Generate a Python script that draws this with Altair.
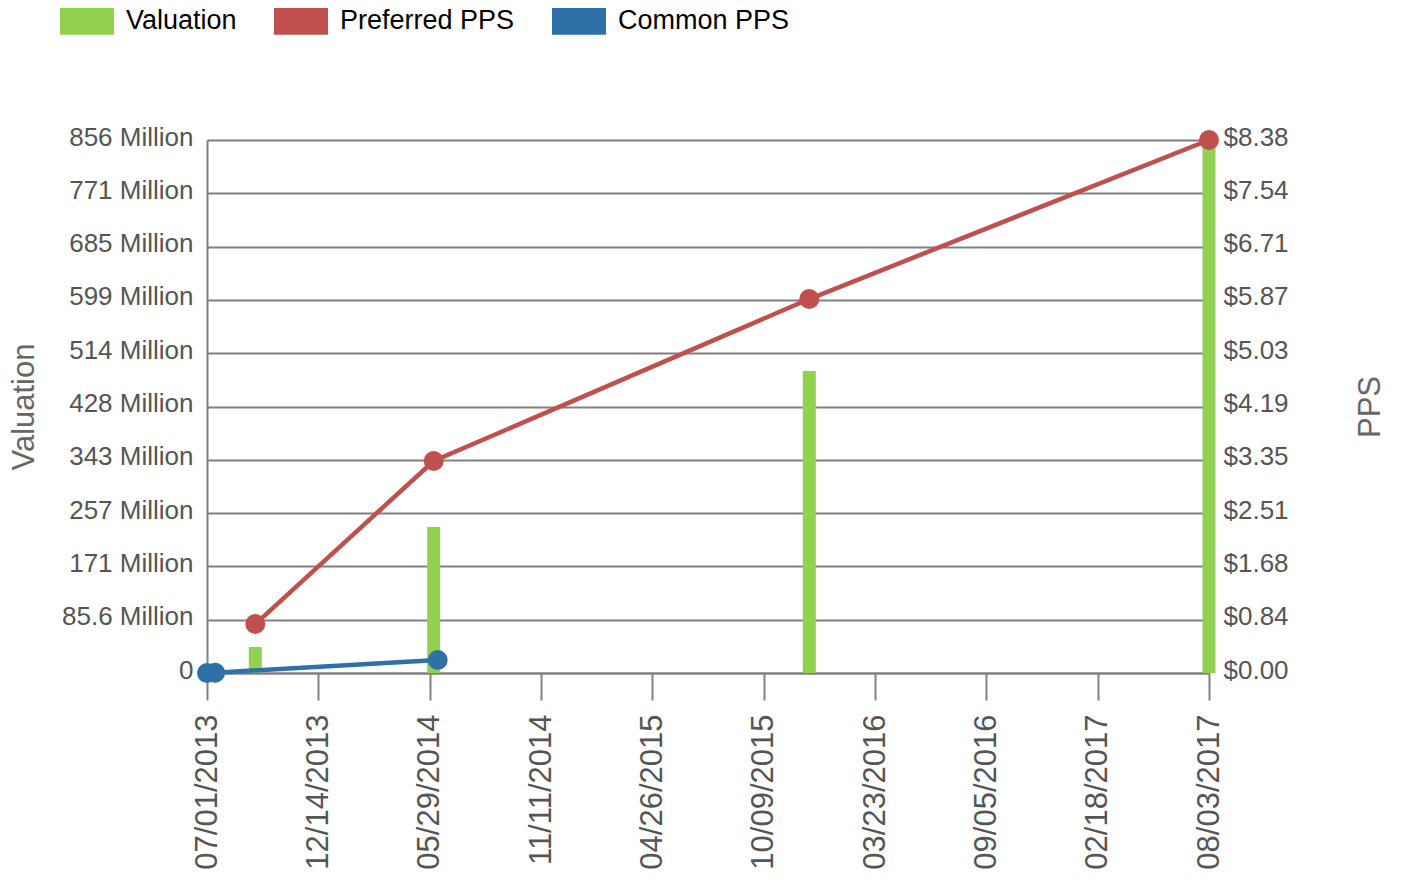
import altair as alt
import pandas as pd

# ---- data ----
val_dates = ["2013-09-11", "2014-06-04", "2015-12-16", "2017-08-03"]
val_values = [41.8e6, 234.6e6, 485.2e6, 856.3e6]

pref_dates = ["2013-09-11", "2014-06-04", "2015-12-16", "2017-08-03"]
pref_values = [0.77, 3.334, 5.881, 8.382]

common_dates = ["2013-07-01", "2013-07-13", "2014-06-10"]
common_values = [0.0, 0.005, 0.204]

series_names = ["Valuation", "Preferred PPS", "Common PPS"]
series_colors = ["#92D050", "#C0504D", "#2E70A8"]

x_tick_dates = ["2013-07-01", "2013-12-14", "2014-05-29", "2014-11-11", "2015-04-26",
                "2015-10-09", "2016-03-23", "2016-09-05", "2017-02-18", "2017-08-03"]
val_max = 856.3e6
pps_max = 8.382
n_steps = 10


def ms(d):
    return int(pd.Timestamp(d, tz="UTC").value // 10**6)


x_ticks = [ms(d) for d in x_tick_dates]
val_ticks = [val_max * k / n_steps for k in range(n_steps + 1)]
pps_ticks = [pps_max * k / n_steps for k in range(n_steps + 1)]

val_df = pd.DataFrame({"date": val_dates, "value": val_values, "series": "Valuation"})
pps_df = pd.concat([
    pd.DataFrame({"date": pref_dates, "pps": pref_values, "series": "Preferred PPS"}),
    pd.DataFrame({"date": common_dates, "pps": common_values, "series": "Common PPS"}),
])

FONT = "Liberation Sans"
GRID = "#808080"
LABEL = "#555555"

x_enc = alt.X(
    "date:T",
    scale=alt.Scale(type="utc", domain=[x_ticks[0], x_ticks[-1]], nice=False, padding=0),
    axis=alt.Axis(
        values=x_ticks, format="%m/%d/%Y", labelAngle=270, labelFontSize=31,
        labelColor=LABEL, tickSize=27, tickWidth=2, tickColor=GRID,
        domainColor=GRID, domainWidth=2, grid=False, labelPadding=14,
        title=None, labelFont=FONT, labelOverlap=False,
    ),
)

color_scale = alt.Scale(domain=series_names, range=series_colors)

bars = alt.Chart(val_df).mark_bar(size=13).encode(
    x=x_enc,
    y=alt.Y(
        "value:Q",
        scale=alt.Scale(domain=[0, val_max], nice=False, zero=True),
        axis=alt.Axis(
            values=val_ticks,
            labelExpr="datum.value == 0 ? '0' : format(datum.value / 1e6, '.3~r') + ' Million'",
            grid=True, gridColor=GRID, gridWidth=2, domain=True, domainColor=GRID,
            domainWidth=2, ticks=False, labelPadding=14, labelFontSize=26,
            labelOffset=-3,
            labelColor=LABEL, labelFont=FONT, title="Valuation", titleFontSize=31,
            titleColor="#666666", titleFontWeight="normal", titleFont=FONT,
            titleAngle=270, titleX=-183, titleY=266.5, titleBaseline="middle",
            titleAlign="center", orient="left",
        ),
    ),
    color=alt.Color(
        "series:N", scale=color_scale,
        legend=alt.Legend(
            title=None, orient="none", legendX=-147, legendY=-146,
            direction="horizontal", symbolType="M-1,-0.5H1V0.5H-1Z",
            symbolSize=2916, symbolStrokeWidth=0, labelFontSize=27,
            labelColor="#000000", labelFont=FONT, labelOffset=12,
            labelLimit=400, columnPadding=37,
        ),
    ),
)

pps_y = alt.Y(
    "pps:Q",
    scale=alt.Scale(domain=[0, pps_max], nice=False, zero=True),
    axis=alt.Axis(
        values=pps_ticks, labelExpr="'$' + format(datum.value, '.2f')",
        orient="right", grid=False, domain=False, ticks=False, labelPadding=14,
        labelFontSize=26, labelOffset=-3, labelColor=LABEL, labelFont=FONT, title="PPS",
        titleFontSize=31, titleColor="#666666", titleFontWeight="normal",
        titleFont=FONT, titleAngle=270, titleX=161.5, titleY=266.5,
        titleBaseline="middle", titleAlign="center",
    ),
)

pps_color = alt.Color("series:N", scale=color_scale, legend=None)

lines = alt.Chart(pps_df).mark_line(strokeWidth=4.5).encode(
    x=x_enc, y=pps_y, color=pps_color
)
points = alt.Chart(pps_df).mark_point(filled=True, size=400, opacity=1).encode(
    x=x_enc, y=pps_y, color=pps_color
)

chart = alt.layer(bars, alt.layer(lines, points)).resolve_scale(
    y="independent"
).properties(
    width=1002, height=533,
    padding={"left": 199, "top": 132, "right": 185, "bottom": 199},
    autosize=alt.AutoSizeParams(type="none"),
).configure_view(stroke=None).configure(font=FONT)

chart.save("out.html", embed_options={"renderer": "svg", "actions": False})
